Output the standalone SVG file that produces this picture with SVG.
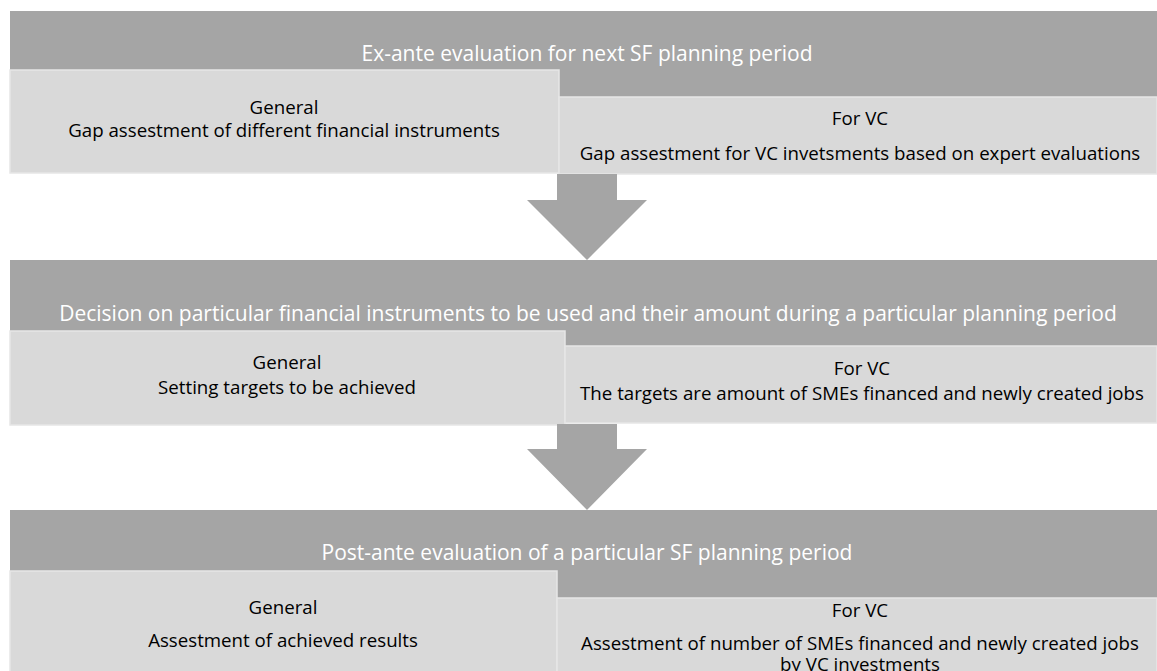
<svg xmlns="http://www.w3.org/2000/svg" width="1157" height="671" viewBox="0 0 1157 671">
<style>
.band{fill:#a5a5a5}
.box{fill:#d9d9d9;stroke:#e6e6e6;stroke-width:1.5}
.arrow{fill:#a5a5a5}
.title{font-family:"Open Sans","Liberation Sans",sans-serif;font-size:21px;fill:#ffffff;text-anchor:middle}
.txt{font-family:"Open Sans","Liberation Sans",sans-serif;font-size:18.7px;fill:#000000;text-anchor:middle}
</style>
<rect width="1157" height="671" fill="#ffffff"/>
<g id="stage1">
  <rect class="band" x="10" y="11" width="1147" height="86"/>
  <text class="title" x="587" y="60.5">Ex-ante evaluation for next SF planning period</text>
</g>
<g id="general1">
  <rect class="box" x="10" y="70" width="549" height="103"/>
  <text class="txt" x="284" y="113.5">General</text>
  <text class="txt" x="284" y="137">Gap assestment of different financial instruments</text>
</g>
<g id="vc1">
  <rect class="box" x="559" y="97" width="598" height="77"/>
  <text class="txt" x="860" y="124.5">For VC</text>
  <text class="txt" x="860" y="159.5">Gap assestment for VC invetsments based on expert evaluations</text>
</g>
<g id="stage2">
  <rect class="band" x="10" y="260" width="1147" height="86"/>
  <text class="title" x="588" y="320.5">Decision on particular financial instruments to be used and their amount during a particular planning period</text>
</g>
<g id="general2">
  <rect class="box" x="10" y="331" width="555" height="94"/>
  <text class="txt" x="287" y="368.5">General</text>
  <text class="txt" x="287" y="393.5">Setting targets to be achieved</text>
</g>
<g id="vc2">
  <rect class="box" x="565" y="346" width="592" height="77"/>
  <text class="txt" x="862" y="374.5">For VC</text>
  <text class="txt" x="862" y="399.5">The targets are amount of SMEs financed and newly created jobs</text>
</g>
<g id="stage3">
  <rect class="band" x="10" y="510" width="1147" height="88"/>
  <text class="title" x="587" y="559.5">Post-ante evaluation of a particular SF planning period</text>
</g>
<g id="general3">
  <rect class="box" x="10" y="571" width="547" height="110"/>
  <text class="txt" x="283" y="613.5">General</text>
  <text class="txt" x="283" y="646.5">Assestment of achieved results</text>
</g>
<g id="vc3">
  <rect class="box" x="557" y="598" width="600" height="80"/>
  <text class="txt" x="860" y="616.5">For VC</text>
  <text class="txt" x="860" y="649.5">Assestment of number of SMEs financed and newly created jobs</text>
  <text class="txt" x="860" y="671">by VC investments</text>
</g>
<g id="connectors">
  <polygon class="arrow" points="557,174 617,174 617,200 647,200 587,260 527,200 557,200"/>
  <polygon class="arrow" points="557,424 617,424 617,449 647,449 587,510 527,449 557,449"/>
</g>
</svg>
